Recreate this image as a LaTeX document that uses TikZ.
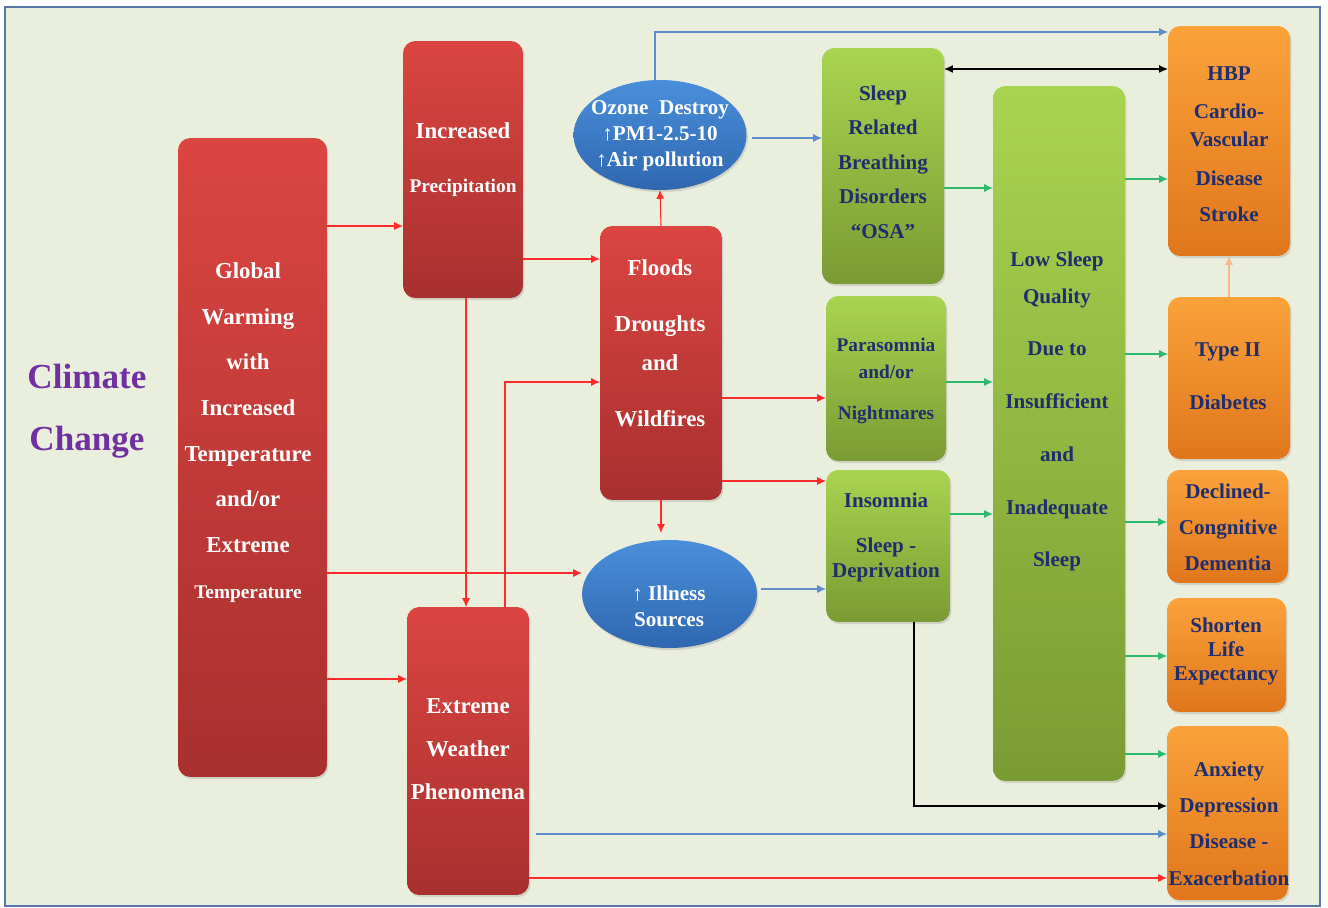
\documentclass[tikz,border=0pt]{standalone}
\usepackage{fontspec}
\setmainfont{Liberation Serif}
\usepackage{tikz}
\usetikzlibrary{arrows,arrows.meta,shadows,shapes.geometric}

\definecolor{bgcol}{HTML}{EAEEDD}
\definecolor{framecol}{HTML}{5877A6}
\definecolor{redtop}{HTML}{DB4541}
\definecolor{redbot}{HTML}{A8302F}
\definecolor{bluetop}{HTML}{4A8FDB}
\definecolor{bluebot}{HTML}{2F67B0}
\definecolor{greentop}{HTML}{A9D44F}
\definecolor{greenbot}{HTML}{7A9B33}
\definecolor{orangetop}{HTML}{FBA23A}
\definecolor{orangebot}{HTML}{E0761C}
\definecolor{navy}{HTML}{1F2E6E}
\definecolor{climpurple}{HTML}{7030A0}
\definecolor{arrred}{HTML}{FF2A2A}
\definecolor{arrblue}{HTML}{5D8DCB}
\definecolor{arrgreen}{HTML}{2DBA6E}
\definecolor{arrpeach}{HTML}{F5B98E}

\newcommand{\fsz}[2]{\fontsize{#1}{#2}\selectfont}

\begin{document}
\begin{tikzpicture}[x=0.02cm, y=-0.02cm,
    box/.style = {rectangle, rounded corners=7pt, outer sep=0pt, inner sep=0pt,
                  drop shadow={opacity=0.25, shadow xshift=0.8pt, shadow yshift=-1.2pt}},
    redbox/.style = {box, top color=redtop, bottom color=redbot},
    greenbox/.style = {box, top color=greentop, bottom color=greenbot},
    orangebox/.style = {box, top color=orangetop, bottom color=orangebot},
    bluedisc/.style = {ellipse, outer sep=0pt, inner sep=0pt, top color=bluetop, bottom color=bluebot,
                  drop shadow={opacity=0.25, shadow xshift=0.8pt, shadow yshift=-1.2pt}},
    wtext/.style = {text=white, align=center, inner sep=0pt},
    ntext/.style = {text=navy, align=center, inner sep=0pt},
    redarr/.style = {->, >={Latex[length=5pt,width=4.5pt]}, arrred, line width=0.6pt},
    bluearr/.style = {->, >={Latex[length=5pt,width=4.5pt]}, arrblue, line width=0.6pt},
    greenarr/.style = {->, >={Latex[length=5pt,width=4.5pt]}, arrgreen, line width=0.6pt},
    blackarr/.style = {->, >={Latex[length=5pt,width=4.5pt]}, black, line width=0.8pt},
    peacharr/.style = {->, >={Latex[length=5pt,width=4.5pt]}, arrpeach, line width=0.8pt}]

    % Frame
    \fill[white] (0,0) rectangle (1328,908);
    \draw[framecol, line width=1.2pt, fill=bgcol] (5,7) rectangle (1320,906);

    % Title
    \node[text=climpurple, align=center, inner sep=0pt, font={\bfseries\fsz{20}{35}}] (clim) at (87,411) {Climate\\Change};

    % Causes
    \node[redbox, minimum width=2.98cm, minimum height=12.78cm] (glob) at (252.5,457.5) {};
    \node[wtext, font={\bfseries\fsz{13}{26}}] (glob-t) at (248,432.5)
        {Global\\Warming\\with\\Increased\\Temperature\\and/or\\Extreme\\{\fsz{11}{26}Temperature}};
    \node[redbox, minimum width=2.4cm, minimum height=5.14cm] (prec) at (463,169.5) {};
    \node[wtext, font={\bfseries\fsz{13}{16}}] (prec-t) at (463,160)
        {Increased\\[14.6pt]{\fsz{11}{16}Precipitation}};
    \node[redbox, minimum width=2.44cm, minimum height=5.48cm] (flood) at (661,363) {};
    \node[wtext, font={\bfseries\fsz{13}{16}}] (flood-t) at (660,343)
        {Floods\\[16.3pt]Droughts\\[6pt]and\\[15.8pt]Wildfires};
    \node[redbox, minimum width=2.44cm, minimum height=5.76cm] (weather) at (468,751) {};
    \node[wtext, font={\bfseries\fsz{13}{24.4}}] (weather-t) at (468,749)
        {Extreme\\Weather\\Phenomena};

    % Pollution and illness
    \node[bluedisc, minimum width=3.46cm, minimum height=2.2cm] (ozone) at (660,135) {};
    \node[wtext, font={\bfseries\fsz{12}{14.7}}] (ozone-t) at (660,136)
        {Ozone~~Destroy\\↑PM1-2.5-10\\↑Air pollution};
    \node[bluedisc, minimum width=3.5cm, minimum height=2.16cm] (ill) at (669.5,594) {};
    \node[wtext, font={\bfseries\fsz{12}{14.7}}] (ill-t) at (669,606)
        {↑ Illness\\Sources};

    % Sleep disorders
    \node[greenbox, minimum width=2.44cm, minimum height=4.72cm] (breath) at (883,166) {};
    \node[ntext, font={\bfseries\fsz{12}{19.6}}] (breath-t) at (883,162)
        {Sleep\\Related\\Breathing\\Disorders\\``OSA''};
    \node[greenbox, minimum width=2.4cm, minimum height=3.3cm] (para) at (886,378.5) {};
    \node[ntext, font={\bfseries\fsz{11}{15.3}}] (para-t) at (886,381)
        {Parasomnia\\and/or\\[7.9pt]Nightmares};
    \node[greenbox, minimum width=2.48cm, minimum height=3.04cm] (insom) at (888,546) {};
    \node[ntext, font={\bfseries\fsz{12}{14.7}}] (insom-t) at (886,537.5)
        {Insomnia\\[10.8pt]Sleep -\\Deprivation};
    \node[greenbox, minimum width=2.64cm, minimum height=13.9cm] (lowq) at (1059,433.5) {};
    \node[ntext, font={\bfseries\fsz{12}{30}}] (lowq-t) at (1057,411.5)
        {Low Sleep\\[-9pt]Quality\\Due to\\Insufficient\\and\\Inadequate\\Sleep};

    % Outcomes
    \node[orangebox, minimum width=2.44cm, minimum height=4.6cm] (hbp) at (1229,141) {};
    \node[ntext, font={\bfseries\fsz{12}{14}}] (hbp-t) at (1229,144)
        {HBP\\[8pt]Cardio-\\[2pt]Vascular\\[8pt]Disease\\[6.4pt]Stroke};
    \node[orangebox, minimum width=2.44cm, minimum height=3.24cm] (diab) at (1229,378) {};
    \node[ntext, font={\bfseries\fsz{12}{30}}] (diab-t) at (1228,376.5)
        {Type II\\Diabetes};
    \node[orangebox, minimum width=2.42cm, minimum height=2.26cm] (cogn) at (1227.5,526.5) {};
    \node[ntext, font={\bfseries\fsz{12}{20.5}}] (cogn-t) at (1228,527)
        {Declined-\\Congnitive\\Dementia};
    \node[orangebox, minimum width=2.38cm, minimum height=2.28cm] (life) at (1226.5,655) {};
    \node[ntext, font={\bfseries\fsz{12}{13.9}}] (life-t) at (1226,651.5)
        {Shorten\\Life\\Expectancy};
    \node[orangebox, minimum width=2.42cm, minimum height=3.48cm] (anx) at (1227.5,813) {};
    \node[ntext, font={\bfseries\fsz{12}{20.6}}] (anx-t) at (1229,823.5)
        {Anxiety\\Depression\\Disease -\\Exacerbation};

    % Red lines
    \draw[redarr] (glob.east |- 0,226) -- (prec.west |- 0,226);
    \draw[redarr] (glob.east |- 0,679) -- (weather.west |- 0,679);
    \draw[redarr] (glob.east |- 0,573) -- (ill.west |- 0,573);
    \draw[redarr] (prec.south -| 466,0) -- (weather.north -| 466,0);
    \draw[redarr] (prec.east |- 0,259) -- (flood.west |- 0,259);
    \draw[redarr] (505,0 |- weather.north) |- (flood.west |- 0,382);
    \draw[redarr] (flood.north) -- (ozone.south);
    \draw[redarr, shorten >=4pt] (flood.south) -- (flood.south |- ill.north);
    \draw[redarr] (flood.east |- 0,398) -- (para.west |- 0,398);
    \draw[redarr] (flood.east |- 0,481) -- (insom.west |- 0,481);
    \draw[redarr] (weather.east |- 0,878) -- (anx.west |- 0,878);

    % Blue lines
    \draw[bluearr] (655,0 |- ozone.north) |- (hbp.west |- 0,32);
    \draw[bluearr, shorten <=3pt] (ozone.east |- 0,138) -- (breath.west |- 0,138);
    \draw[bluearr, shorten <=2pt] (ill.east |- 0,589) -- (insom.west |- 0,589);
    \draw[bluearr, shorten <=4pt] (weather.east |- 0,834) -- (anx.west |- 0,834);

    % Green lines
    \draw[greenarr] (breath.east |- 0,188) -- (lowq.west |- 0,188);
    \draw[greenarr] (para.east |- 0,382) -- (lowq.west |- 0,382);
    \draw[greenarr] (insom.east |- 0,514) -- (lowq.west |- 0,514);
    \draw[greenarr] (lowq.east |- 0,179) -- (hbp.west |- 0,179);
    \draw[greenarr] (lowq.east |- 0,354) -- (diab.west |- 0,354);
    \draw[greenarr] (lowq.east |- 0,522) -- (cogn.west |- 0,522);
    \draw[greenarr] (lowq.east |- 0,656) -- (life.west |- 0,656);
    \draw[greenarr] (lowq.east |- 0,754) -- (anx.west |- 0,754);

    % Black and peach lines
    \draw[blackarr, <->] (breath.east |- 0,69) -- (hbp.west |- 0,69);
    \draw[blackarr] (914,0 |- insom.south) |- (anx.west |- 0,806);
    \draw[peacharr] (diab.north) -- (hbp.south);

\end{tikzpicture}
\end{document}
